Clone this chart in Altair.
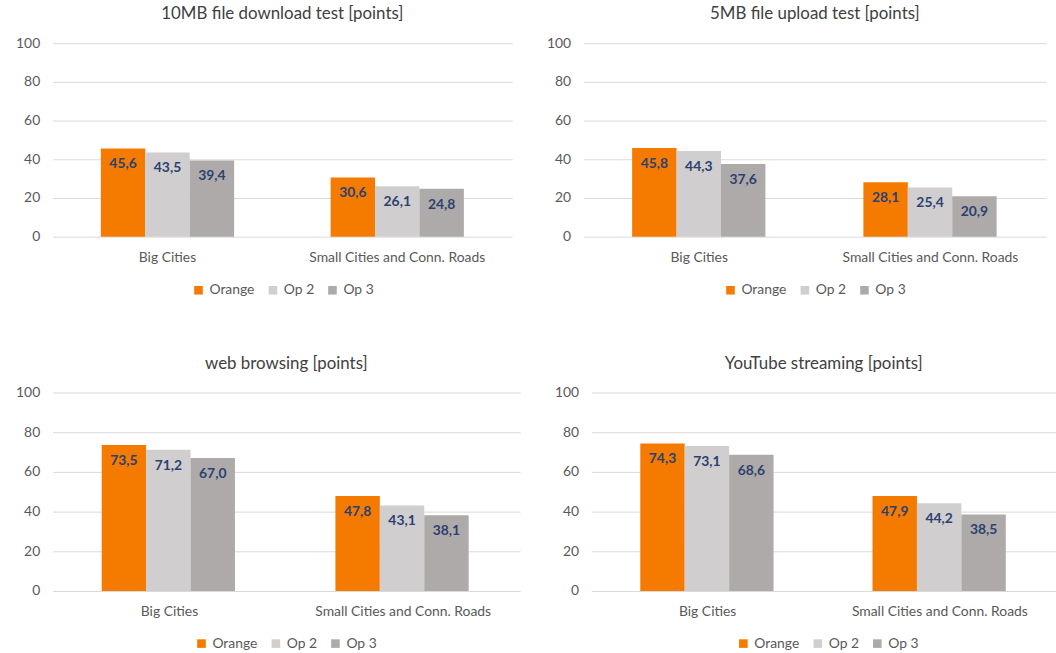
import altair as alt
import pandas as pd

categories = ["Big Cities", "Small Cities and Conn. Roads"]
series = ["Orange", "Op 2", "Op 3"]
colors = ["#F57B00", "#D0CECE", "#AEAAAA"]

download_big = [45.6, 43.5, 39.4]
download_small = [30.6, 26.1, 24.8]
upload_big = [45.8, 44.3, 37.6]
upload_small = [28.1, 25.4, 20.9]
web_big = [73.5, 71.2, 67.0]
web_small = [47.8, 43.1, 38.1]
youtube_big = [74.3, 73.1, 68.6]
youtube_small = [47.9, 44.2, 38.5]

y_ticks = [0, 20, 40, 60, 80, 100]
FONT = "Lato"


def make_df(big, small):
    rows = []
    for cat, vals in zip(categories, [big, small]):
        for s, v in zip(series, vals):
            rows.append({"cat": cat, "series": s, "value": v,
                         "label": f"{v:.1f}".replace(".", ",")})
    return pd.DataFrame(rows)


def panel(title, big, small, width, height, y_extent, legend_x, legend_y):
    df = make_df(big, small)
    x = alt.X("cat:N", sort=categories, title=None,
              scale=alt.Scale(paddingInner=0.42, paddingOuter=0.21),
              axis=alt.Axis(labelAngle=0, labelFontSize=14, labelColor="#595959",
                            labelPadding=14, ticks=False, tickSize=0, domain=False,
                            grid=False, labelFont=FONT))
    xo = alt.XOffset("series:N", sort=series, scale=alt.Scale(paddingInner=0.0))
    y = alt.Y("value:Q", title=None,
              scale=alt.Scale(domain=[0, 100], nice=False, zero=True),
              axis=alt.Axis(values=y_ticks, labelFontSize=14, labelColor="#595959",
                            labelPadding=13, ticks=False, tickSize=0, domain=False,
                            labelOverlap=False, grid=True,
                            gridColor="#D9D9D9", gridWidth=1, labelFont=FONT,
                            minExtent=y_extent, maxExtent=y_extent))
    bars = alt.Chart(df).mark_bar().encode(
        x=x, xOffset=xo, y=y,
        color=alt.Color("series:N", sort=series,
                        scale=alt.Scale(domain=series, range=colors),
                        legend=alt.Legend(orient="none", legendX=legend_x, legendY=legend_y,
                                          direction="horizontal", title=None,
                                          symbolType="square", symbolSize=75,
                                          symbolStrokeWidth=0,
                                          labelFontSize=14, labelColor="#595959",
                                          labelFont=FONT, labelOffset=4,
                                          columnPadding=11)),
    )
    text = alt.Chart(df).mark_text(fontWeight="bold", fontSize=14, color="#2B4170",
                                   baseline="middle", dy=16, font=FONT).encode(
        x=x, xOffset=xo, y=y, text="label:N")
    return alt.layer(bars, text).properties(
        width=width, height=height,
        title=alt.TitleParams(title, fontSize=17, font=FONT, fontWeight="normal",
                              color="#404040", anchor="middle", offset=13))


tl = panel("10MB file download test [points]", download_big, download_small,
           463, 195, 53, 140, 242)
tr = panel("5MB file upload test [points]", upload_big, upload_small,
           466, 195, 35, 141, 242)
bl = panel("web browsing [points]", web_big, web_small,
           471, 200, 42, 143, 246)
br = panel("YouTube streaming [points]", youtube_big, youtube_small,
           468, 200, 35, 146, 246)

row1 = alt.hconcat(tl, tr, spacing=34).resolve_scale(color="independent")
row2 = alt.hconcat(bl, br, spacing=34).resolve_scale(color="independent")

chart = alt.vconcat(row1, row2, spacing=58).resolve_scale(color="independent").properties(
    padding={"left": 0, "top": 3, "right": 0, "bottom": 0},
    background="white",
).configure_view(strokeWidth=0, stroke=None)

chart.save("out.html", embed_options={"renderer": "svg", "actions": False})
